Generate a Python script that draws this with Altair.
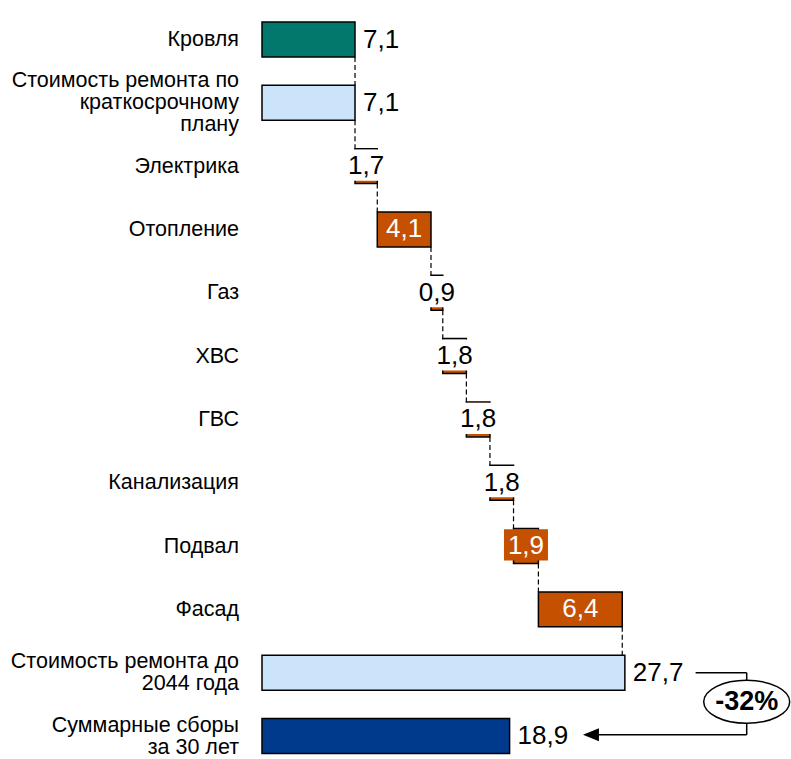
import altair as alt
import pandas as pd

# ---------------- data ----------------
categories = [
    "Кровля",
    "Стоимость ремонта по|краткосрочному|плану",
    "Электрика",
    "Отопление",
    "Газ",
    "ХВС",
    "ГВС",
    "Канализация",
    "Подвал",
    "Фасад",
    "Стоимость ремонта до|2044 года",
    "Суммарные сборы |за 30 лет",
]
values = [7.1, 7.1, 1.7, 4.1, 0.9, 1.8, 1.8, 1.8, 1.9, 6.4, 27.7, 18.9]
kinds = ["roof", "plan", "step", "step", "step", "step", "step", "step",
         "step", "step", "plan", "collected"]
change_label = "-32%"

# ---------------- derived table ----------------
FONT = "Liberation Sans"
HALF = 0.276          # half bar thickness in row units
ROW_PX = 63.32        # pixels per row
LINE_H = 22           # line height of category labels (px)
highlight = {"Подвал"}  # label drawn on an orange box

rows = []
cum = 0.0
for i, (c, v, k) in enumerate(zip(categories, values, kinds)):
    if k == "step":
        s, e = cum, cum + v
        cum = e
    else:
        s, e = 0.0, v
        if k == "plan":
            cum = e
    lab = f"{v:.1f}".replace(".", ",")
    if k != "step":
        place = "out"
    elif v >= 3:
        place = "in"
    else:
        place = "box"
    boxfill = "#C45000" if c in highlight else "white"
    tcolor = "white" if (place == "in" or (place == "box" and c in highlight)) else "black"
    nlines = c.count("|") + 1
    rows.append(dict(cat=c, idx=i, start=s, end=e, mid=(s + e) / 2, val=v, lab=lab,
                     kind=k, top=i - HALF, bottom=i + HALF, place=place,
                     boxfill=boxfill, tcolor=tcolor,
                     ly=i - (nlines - 1) * LINE_H / 2 / ROW_PX + 0.5 / ROW_PX,
                     boxy=i - 1.1 / ROW_PX))
df = pd.DataFrame(rows)

# connectors: from each bar end down to the next bar (not into the last one)
con = []
for i in range(len(rows) - 2):
    con.append(dict(x=rows[i]["end"], y1=i + HALF, y2=i + 1 - HALF))
dcon = pd.DataFrame(con)

# ---------------- scales ----------------
W, H = 529, 753
PX_PER_UNIT = 13.1
y_min = -(39.5 - 6) / ROW_PX
xs = alt.Scale(domain=[0, W / PX_PER_UNIT], nice=False, zero=False)
ys = alt.Scale(domain=[y_min, y_min + H / ROW_PX], nice=False, zero=False, reverse=True)

yaxis = alt.Axis(labels=False, ticks=False, grid=False, title=None,
                 domainColor="black", domainWidth=2)

colors = alt.Scale(domain=["roof", "plan", "step", "collected"],
                   range=["#00786C", "#CCE4FA", "#C45000", "#003A8C"])

bars = alt.Chart(df).mark_rect(stroke="black", strokeWidth=1.5).encode(
    x=alt.X("start:Q", scale=xs, axis=None),
    x2="end:Q",
    y=alt.Y("top:Q", scale=ys, axis=yaxis),
    y2="bottom:Q",
    color=alt.Color("kind:N", scale=colors, legend=None),
)

connectors = alt.Chart(dcon).mark_rule(color="black", strokeWidth=1.2, strokeDash=[5, 3]).encode(
    x=alt.X("x:Q", scale=xs, axis=None),
    y=alt.Y("y1:Q", scale=ys, axis=None),
    y2="y2:Q",
)

cat_labels = alt.Chart(df).mark_text(
    align="right", baseline="middle", font=FONT, fontSize=21.5, lineBreak="|",
    lineHeight=LINE_H, color="black"
).encode(
    x=alt.value(-23),
    y=alt.Y("ly:Q", scale=ys, axis=None),
    text="cat:N",
)

out_labels = alt.Chart(df).transform_filter("datum.place == 'out'").mark_text(
    align="left", baseline="middle", dx=8, font=FONT, fontSize=26, color="black"
).encode(
    x=alt.X("end:Q", scale=xs, axis=None),
    y=alt.Y("idx:Q", scale=ys, axis=None),
    text="lab:N",
)

box_shape = "M-1,-0.71L1,-0.71L1,0.71L-1,0.71Z"
boxes = alt.Chart(df).transform_filter("datum.place == 'box'").mark_point(
    shape=box_shape, size=44 * 44, filled=True, opacity=1, strokeWidth=0
).encode(
    x=alt.X("mid:Q", scale=xs, axis=None),
    y=alt.Y("boxy:Q", scale=ys, axis=None),
    color=alt.Color("boxfill:N", scale=None),
)

in_labels = alt.Chart(df).transform_filter("datum.place != 'out'").mark_text(
    align="center", baseline="middle", font=FONT, fontSize=26
).encode(
    x=alt.X("mid:Q", scale=xs, axis=None),
    y=alt.Y("idx:Q", scale=ys, axis=None),
    text="lab:N",
    color=alt.Color("tcolor:N", scale=None),
)

# ---------------- change annotation (-32%) ----------------
total_row = kinds.index("plan", 2)
coll_row = kinds.index("collected")
bracket_x = 37.0
line_start = 33.1
arrow_tip = 24.5
seg = pd.DataFrame([
    dict(x1=line_start, x2=bracket_x, y1=total_row, y2=total_row),
    dict(x1=bracket_x, x2=bracket_x, y1=total_row, y2=coll_row - 0.02),
    dict(x1=arrow_tip + 0.8, x2=bracket_x, y1=coll_row - 0.02, y2=coll_row - 0.02),
])
segments = alt.Chart(seg).mark_rule(color="black", strokeWidth=1.5).encode(
    x=alt.X("x1:Q", scale=xs, axis=None), x2="x2:Q",
    y=alt.Y("y1:Q", scale=ys, axis=None), y2="y2:Q",
)
arrow = alt.Chart(pd.DataFrame([dict(x=arrow_tip, y=coll_row - 0.02)])).mark_point(
    shape="M0,0L2,-0.8L2,0.8Z", size=256, filled=True, opacity=1, color="black", strokeWidth=0
).encode(
    x=alt.X("x:Q", scale=xs, axis=None),
    y=alt.Y("y:Q", scale=ys, axis=None),
)
ann_pt = pd.DataFrame([dict(x=bracket_x, y=(total_row + coll_row) / 2 - 0.04, t=change_label)])
ellipse = alt.Chart(ann_pt).mark_point(
    shape="M-1,0A1,0.5,0,1,0,1,0A1,0.5,0,1,0,-1,0Z", size=86 * 86, filled=True,
    fill="white", stroke="black", strokeWidth=1.5, opacity=1
).encode(
    x=alt.X("x:Q", scale=xs, axis=None),
    y=alt.Y("y:Q", scale=ys, axis=None),
)
ann_text = alt.Chart(ann_pt).mark_text(
    align="center", baseline="middle", font=FONT, fontSize=27, fontWeight="bold", color="black"
).encode(
    x=alt.X("x:Q", scale=xs, axis=None),
    y=alt.Y("y:Q", scale=ys, axis=None),
    text="t:N",
)

chart = alt.layer(
    connectors, bars, boxes, in_labels, out_labels, cat_labels,
    segments, arrow, ellipse, ann_text
).properties(
    width=W, height=H,
    padding={"left": 262, "top": 6, "right": 0, "bottom": 0},
    autosize=alt.AutoSizeParams(type="none"),
).configure_view(stroke=None)

chart.save("out.html", embed_options={"renderer": "svg", "actions": False})
